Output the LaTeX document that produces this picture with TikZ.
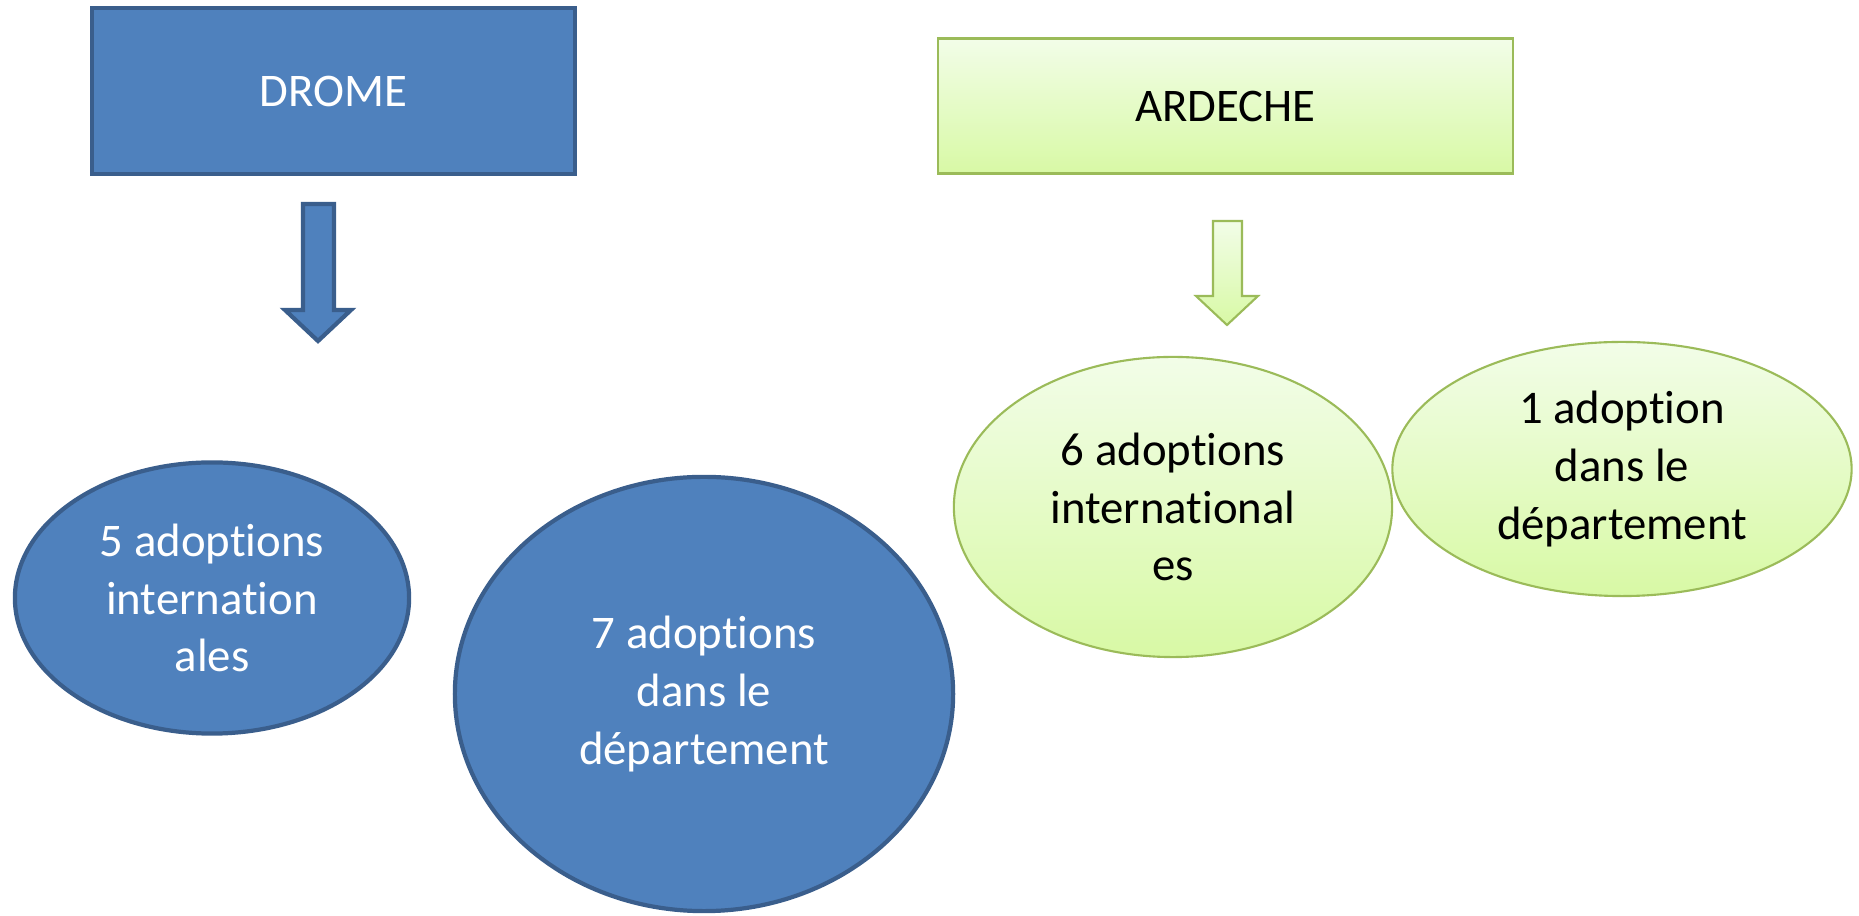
\documentclass[tikz,border=0pt]{standalone}
\usepackage{fontspec}
\setmainfont{Carlito}[RawFeature = {-liga}]
\usetikzlibrary{shapes.geometric}
\definecolor{dromefill}{HTML}{4F81BD}
\definecolor{dromeline}{HTML}{3A5E8C}
\definecolor{ardline}{HTML}{9BBB59}
\definecolor{ardtop}{HTML}{F2FDE8}
\definecolor{ardbot}{HTML}{D8F9A5}
\begin{document}
\begin{tikzpicture}[x = 0.01cm, y = -0.01cm,
    dromestyle/.style = {draw = dromeline, fill = dromefill, line width = 1.2pt, text = white},
    ardstyle/.style = {draw = ardline, top color = ardtop, bottom color = ardbot, line width = 0.6pt, text = black},
    deptbox/.style = {rectangle, inner sep = 0pt, font = \fontsize{13.3}{16.4}\selectfont},
    bubble/.style = {ellipse, inner sep = 0pt, align = center, font = \fontsize{13.3}{16.4}\selectfont}]
  \useasboundingbox (0, 0) rectangle (1859, 916);

  % departements
  \node[deptbox, dromestyle, minimum width = 4.83cm, minimum height = 1.66cm] (drome) at (333.5, 91) {DROME};
  \node[deptbox, ardstyle, minimum width = 5.75cm, minimum height = 1.35cm] (ardeche) at (1225.5, 106) {ARDECHE};

  % block arrows
  \draw[dromestyle, line join = miter] (303, 204) -- (334, 204) -- (334, 310) -- (351, 310) -- (318, 341)
    -- (285, 310) -- (303, 310) -- cycle;
  \draw[ardstyle, line join = miter] (1213, 221) -- (1242, 221) -- (1242, 296) -- (1258, 296) -- (1227, 325)
    -- (1196, 296) -- (1213, 296) -- cycle;

  % adoptions
  \node[bubble, dromestyle, minimum width = 3.94cm, minimum height = 2.71cm] (dromeint) at (212, 598)
    {5 adoptions\\internation\\ales};
  \node[bubble, dromestyle, minimum width = 4.98cm, minimum height = 4.34cm] (dromedep) at (704, 694)
    {7 adoptions\\dans le\\département};
  \node[bubble, ardstyle, minimum width = 4.38cm, minimum height = 3.00cm] (ardint) at (1173, 507)
    {6 adoptions\\international\\es};
  \node[bubble, ardstyle, minimum width = 4.59cm, minimum height = 2.54cm] (arddep) at (1622, 469)
    {1 adoption\\dans le\\département};
\end{tikzpicture}
\end{document}
